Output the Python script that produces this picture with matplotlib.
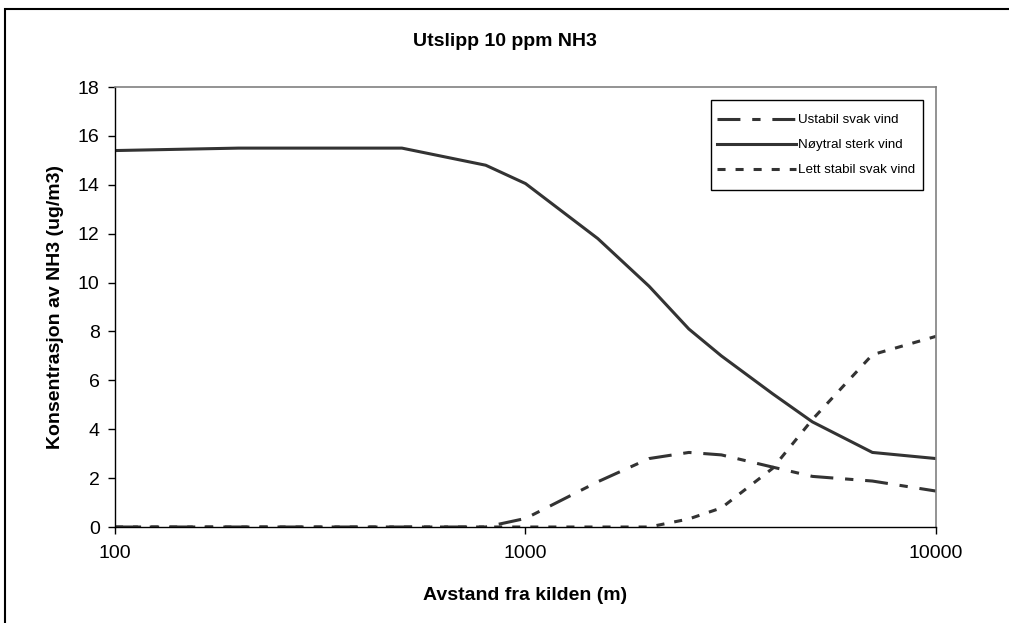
import matplotlib
matplotlib.use("Agg")
import matplotlib.pyplot as plt
from matplotlib.patches import Rectangle

# Distance from the source (m)
distance = [100, 200, 500, 800, 1000, 1500, 2000, 2500, 3000, 4000, 5000, 7000, 10000]

# NH3 concentration (ug/m3) per weather case
ustabil_svak = [0, 0, 0, 0, 0.35, 1.85, 2.8, 3.05, 2.95, 2.45, 2.07, 1.88, 1.47]
noytral_sterk = [15.4, 15.5, 15.5, 14.8, 14.05, 11.8, 9.85, 8.1, 7.0, 5.45, 4.3, 3.05, 2.8]
lett_stabil_svak = [0, 0, 0, 0, 0, 0, 0, 0.33, 0.78, 2.4, 4.4, 7.05, 7.8]

labels = ["Ustabil svak vind", "Nøytral sterk vind", "Lett stabil svak vind"]
x_ticks = [100, 1000, 10000]
y_ticks = list(range(0, 19, 2))

plt.rcParams["font.family"] = ["Liberation Sans", "DejaVu Sans"]
plt.rcParams["lines.scale_dashes"] = False

W, H = 1009, 623
fig = plt.figure(figsize=(W / 100, H / 100), dpi=100)
ax = fig.add_axes([115 / W, 1 - 527 / H, (936 - 115) / W, (527 - 87) / H])

line_color = "#333333"
lw = 2.2
ax.plot(distance, ustabil_svak, color=line_color, lw=lw,
        dashes=(16.5, 8.5, 6, 8.5), dash_capstyle="butt", label=labels[0])
ax.plot(distance, noytral_sterk, color=line_color, lw=lw, label=labels[1])
ax.plot(distance, lett_stabil_svak, color=line_color, lw=lw,
        dashes=(5.8, 7.2), dash_capstyle="butt", label=labels[2])

ax.set_xscale("log")
ax.set_xlim(100, 10000)
ax.set_ylim(0, 18)
ax.set_xticks(x_ticks)
ax.set_xticklabels([str(v) for v in x_ticks])
ax.xaxis.set_minor_locator(matplotlib.ticker.NullLocator())
ax.set_yticks(y_ticks)
ax.set_yticklabels([str(v) for v in y_ticks])
ax.tick_params(axis="both", direction="out", length=5, width=1,
               labelsize=14, color="#000000", pad=8)
ax.tick_params(axis="y", pad=6)

for side in ("left", "bottom"):
    ax.spines[side].set_color("#000000")
    ax.spines[side].set_linewidth(1)
for side in ("top", "right"):
    ax.spines[side].set_color("#808080")
    ax.spines[side].set_linewidth(1.2)

ax.set_xlabel("Avstand fra kilden (m)", fontsize=14, fontweight="bold", labelpad=18)
ax.set_ylabel("Konsentrasjon av NH3 (ug/m3)", fontsize=14, fontweight="bold", labelpad=10)
fig.text(505 / W, 1 - 41 / H, "Utslipp 10 ppm NH3", fontsize=14, fontweight="bold",
         ha="center", va="center")

# legend box drawn inside the axes, entries placed on top of it
ax.add_patch(Rectangle((711 / W, 1 - 190 / H), (923 - 711) / W, 90 / H,
                       transform=fig.transFigure, facecolor="white",
                       edgecolor="#000000", linewidth=1, zorder=4, clip_on=False))
leg = ax.legend(loc="upper left", bbox_to_anchor=(717 / W, 1 - 114 / H),
                bbox_transform=fig.transFigure, borderaxespad=0, borderpad=0,
                fontsize=9.6, handlelength=5.9, handletextpad=0.15,
                labelspacing=0.95, frameon=False)
leg.set_zorder(5)

# outer chart border
fig.patches.append(Rectangle((5 / W, -0.5), 1.5, (1 - 9 / H) + 0.5,
                             transform=fig.transFigure, fill=False,
                             edgecolor="#000000", linewidth=1.5))

fig.savefig("out.png", dpi=100)
